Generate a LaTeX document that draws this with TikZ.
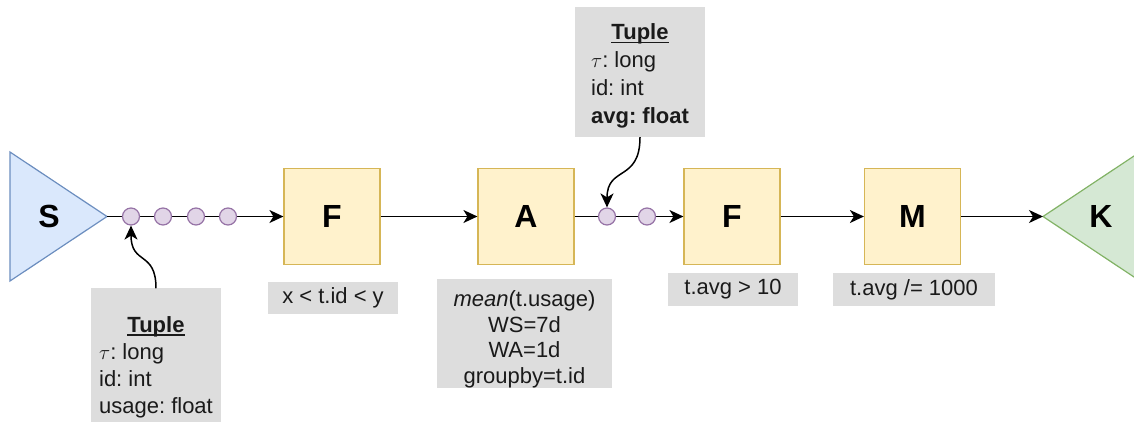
\documentclass[tikz,border=0pt]{standalone}
\usepackage{fontspec}
\setmainfont{Liberation Sans}
\frenchspacing
\usetikzlibrary{arrows.meta}
\definecolor{sfill}{HTML}{DAE8FC}
\definecolor{sdraw}{HTML}{6C8EBF}
\definecolor{ofill}{HTML}{FFF2CC}
\definecolor{odraw}{HTML}{D6B656}
\definecolor{kfill}{HTML}{D5E8D4}
\definecolor{kdraw}{HTML}{82B366}
\definecolor{dfill}{HTML}{E1D5E7}
\definecolor{ddraw}{HTML}{9673A6}
\definecolor{gfill}{HTML}{DDDDDD}
\definecolor{txt}{HTML}{1A1A1A}
\newcommand\ulbf[1]{\setbox0\hbox{\textbf{#1}}\rlap{\rule[-3.5pt]{\wd0}{1.6pt}}\box0}
\begin{document}
\begin{tikzpicture}[x=1pt,y=-1pt,
  opbox/.style={draw=odraw,fill=ofill,line width=1.2pt,minimum width=96,minimum height=96,inner sep=0pt,font=\fontsize{32}{36}\selectfont\bfseries},
  lbl/.style={fill=gfill,inner sep=0pt,text=txt,font=\fontsize{22}{25.5}\selectfont},
  dotn/.style={circle,draw=ddraw,fill=dfill,line width=1.2pt,minimum size=17,inner sep=0pt},
  arr/.style={line width=1.5pt,-{Stealth[length=14pt,width=13pt,inset=4pt]}},
  conn/.style={line width=1.5pt}]
\useasboundingbox (0,0) rectangle (1134,423);
% source triangle
\draw[draw=sdraw,fill=sfill,line width=1.2pt] (10,152) -- (107,216.5) -- (10,281) -- cycle;
\coordinate (Sap) at (107,216.5);
\node[font=\fontsize{32}{36}\selectfont\bfseries] (S) at (49,216.5) {S};
% sink triangle
\draw[draw=kdraw,fill=kfill,line width=1.2pt] (1140,152) -- (1043,216.5) -- (1140,281);
\coordinate (Kap) at (1043,216.5);
\node[font=\fontsize{32}{36}\selectfont\bfseries] (K) at (1101,216.5) {K};
% operators
\node[opbox] (F1) at (332,216.5) {F};
\node[opbox] (A) at (526,216.5) {A};
\node[opbox] (F2) at (732,216.5) {F};
\node[opbox] (M) at (912.5,216.5) {M};
% connectors
\draw[arr] (Sap) -- (F1.west);
\draw[arr] (F1.east) -- (A.west);
\draw[arr] (A.east) -- (F2.west);
\draw[arr] (F2.east) -- (M.west);
\draw[arr] (M.east) -- (Kap);
% dots
\node[dotn] (d1) at (131,216.5) {};
\node[dotn] (d2) at (163,216.5) {};
\node[dotn] (d3) at (196,216.5) {};
\node[dotn] (d4) at (228,216.5) {};
\node[dotn] (d5) at (607,216.5) {};
\node[dotn] (d6) at (647,216.5) {};
% labels
\node[lbl,minimum width=130,minimum height=32] (F1l) at (333,298) {x < t.id < y};
\node[lbl,minimum width=175,minimum height=103,align=center] (Al) at (524.5,333.5) {\rule{0pt}{27.5pt}\textit{mean}(t.usage)\\WS=7d\\WA=1d\\groupby=t.id};
\node[lbl,minimum width=130,minimum height=33] (F2l) at (733,289.5) {t.avg > 10};
\node[lbl,minimum width=162,minimum height=33] (Ml) at (914,289.5) {t.avg /= 1000};
% tuple boxes
\node[lbl,minimum width=130,minimum height=116,font=\fontsize{22}{27}\selectfont] (T1) at (156,355) {\begin{tabular}{@{}l@{}}\multicolumn{1}{@{}c@{}}{\rule{0pt}{44pt}\ulbf{Tuple}}\\$\tau$: long\\id: int\\usage: float\end{tabular}};
\node[lbl,minimum width=130,minimum height=130,font=\fontsize{22}{27.8}\selectfont] (T2) at (640,72) {\begin{tabular}{@{}l@{}}\multicolumn{1}{@{}c@{}}{\rule{0pt}{27pt}\ulbf{Tuple}}\\$\tau$: long\\id: int\\\textbf{avg: float}\end{tabular}};
% curved arrows
\draw[arr] (T1.north) .. controls +(0,-38) and +(0,40) .. (d1.south);
\draw[arr] (T2.south) .. controls +(0,45) and +(0,-42) .. (d5.north);
\end{tikzpicture}
\end{document}
